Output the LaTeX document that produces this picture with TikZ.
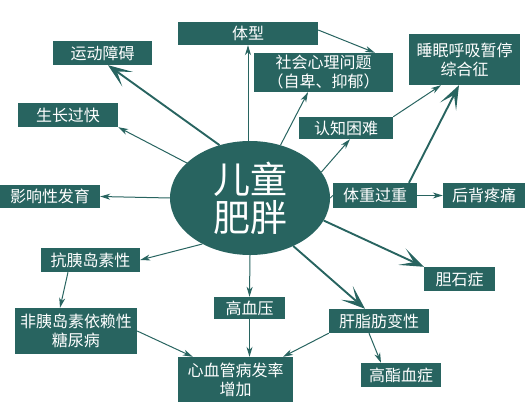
\documentclass[tikz,border=0pt]{standalone}
\usepackage{fontspec}
\newfontfamily\cjk{Noto Sans CJK SC}
\usetikzlibrary{arrows.meta,shapes.geometric}
\definecolor{teal1}{RGB}{40,100,96}
\tikzset{
  box/.style={fill=teal1,text=white,inner sep=0pt,font=\cjk\fontsize{16}{19}\selectfont,align=center},
  thin/.style={draw=teal1,line width=1pt,-{Stealth[length=10pt,width=6pt,inset=3pt]}},
  thick/.style={draw=teal1,line width=1.9pt,-{Stealth[length=24pt,width=18pt,inset=13pt]}},
  plain/.style={draw=teal1,line width=1pt}
}
\begin{document}
\begin{tikzpicture}[x=1pt,y=-1pt]
\useasboundingbox (0,0) rectangle (531,403);
\node[ellipse,fill=teal1,minimum width=160pt,minimum height=114pt,inner sep=0pt,text=white,font=\cjk\fontsize{37}{38}\selectfont,align=center] (ell) at (250,198) {儿童\\肥胖};
\node[box,minimum width=140pt,minimum height=23pt] (ti) at (248,33.5) {体型};
\node[box,minimum width=99pt,minimum height=24pt] (yd) at (102.5,53) {运动障碍};
\node[box,minimum width=100pt,minimum height=24pt] (sz) at (68,115) {生长过快};
\node[box,minimum width=100pt,minimum height=23pt] (yx) at (50,196.5) {影响性发育};
\node[box,minimum width=139pt,minimum height=39pt] (sh) at (323.5,72.5) {社会心理问题\\（自卑、抑郁）};
\node[box,minimum width=111pt,minimum height=51pt] (sm) at (464.5,59.5) {睡眠呼吸暂停\\综合征};
\node[box,minimum width=94pt,minimum height=22pt] (rz) at (346,128) {认知困难};
\node[box,minimum width=84pt,minimum height=25pt] (tz) at (375,195.5) {体重过重};
\node[box,minimum width=82pt,minimum height=25pt] (hb) at (484,195.5) {后背疼痛};
\node[box,minimum width=99pt,minimum height=24pt] (ky) at (90.5,260) {抗胰岛素性};
\node[box,minimum width=122pt,minimum height=46pt] (fy) at (76,331) {非胰岛素依赖性\\糖尿病};
\node[box,minimum width=71pt,minimum height=22pt] (gx) at (249.5,308) {高血压};
\node[box,minimum width=115pt,minimum height=45pt] (xx) at (235.5,379.5) {心血管病发率\\增加};
\node[box,minimum width=71pt,minimum height=24pt] (dz) at (459.5,279) {胆石症};
\node[box,minimum width=100pt,minimum height=24pt] (gz) at (379,321) {肝脂肪变性};
\node[box,minimum width=80pt,minimum height=24pt] (gs) at (401,375) {高酯血症};
% connectors
\draw[thin] (ti.south |- ell.north) -- (ti.south);
\draw[thick] (ell.120.5) -- ([xshift=5.5pt]yd.south);
\draw[thin] (ell.151) -- (sz.south east);
\draw[thin] (ell.west) -- (yx.east);
\draw[thin] (ell.60) -- ([xshift=-15.5pt]sh.south);
\draw[thin] ([yshift=3.5pt]ti.east) -- ([xshift=51.5pt]sh.north);
\draw[thin] (ell.20.4) -- ([xshift=4pt]rz.south);
\draw[thin] (rz.north east) -- ([xshift=-23.5pt]sm.south);
\draw[thick] ([xshift=34pt]tz.north) -- ([xshift=-5.5pt]sm.south);
\draw[plain] (ell.east) -- (tz.west);
\draw[thin] (tz.east) -- (hb.west);
\draw[thick] (ell.-17.7) -- (dz.north west);
\draw[thick] (ell.-48) -- ([xshift=-14pt]gz.north);
\draw[thin] (gz.south west) -- ([xshift=47.5pt]xx.north);
\draw[thin] ([xshift=-10pt]gz.south) -- ([xshift=-20pt]gs.north);
\draw[thin] (ell.south) -- (gx.north);
\draw[thin] (gx.south) -- (gx.south |- xx.north);
\draw[thin] (ell.-136.7) -- (ky.east);
\draw[thin] ([xshift=-22.5pt]ky.south) -- ([xshift=-16pt]fy.north);
\draw[thin] (fy.east) -- ([xshift=15pt]xx.north west);
\end{tikzpicture}
\end{document}
